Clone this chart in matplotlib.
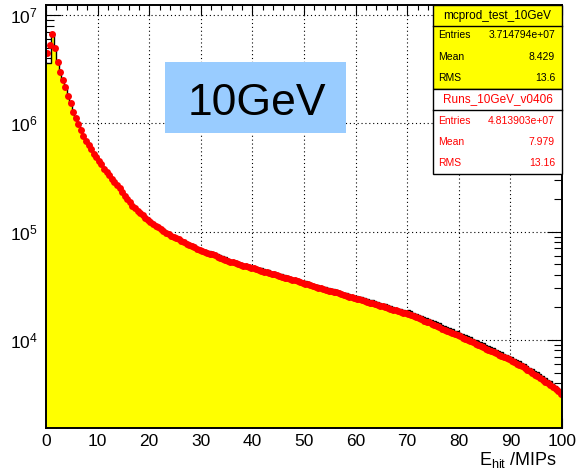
import numpy as np
import matplotlib
matplotlib.use("Agg")
import matplotlib.pyplot as plt
from matplotlib.patches import Rectangle
from matplotlib.lines import Line2D
from matplotlib.ticker import FixedLocator, FixedFormatter, LogLocator, MultipleLocator, NullFormatter

plt.rcParams['font.family'] = ['Liberation Sans', 'DejaVu Sans']
plt.rcParams['mathtext.fontset'] = 'custom'
plt.rcParams['mathtext.rm'] = 'Liberation Sans'
plt.rcParams['mathtext.it'] = 'Liberation Sans:italic'

# ---------------- data ----------------
x_min, x_max, n_bins = 0.0, 100.0, 200

# MC histogram (yellow filled, black outline), counts per 0.5-MIP bin
mc_counts = [
    3.6e6, 3.6e6, 6.8e6, 5.1e6, 3.8e6, 3.05e6, 2.5e6, 2.15e6, 1.8e6, 1.55e6,
    1.28e6, 1.13e6, 9.9e5, 8.6e5, 7.7e5, 7.0e5, 6.4e5, 5.85e5, 5.35e5, 4.95e5,
    4.60e5, 4.30e5, 3.92e5, 3.66e5, 3.41e5, 3.18e5, 2.97e5, 2.77e5, 2.59e5, 2.41e5,
    2.21e5, 2.06e5, 1.92e5, 1.79e5, 1.71e5, 1.60e5, 1.52e5, 1.45e5, 1.39e5, 1.33e5,
    1.27e5, 1.22e5, 1.16e5, 1.13e5, 1.08e5, 1.05e5, 1.01e5, 9.84e4, 9.40e4, 9.18e4,
    8.97e4, 8.77e4, 8.37e4, 8.18e4, 7.99e4, 7.82e4, 7.63e4, 7.46e4, 7.13e4, 6.96e4,
    6.94e4, 6.78e4, 6.63e4, 6.56e4, 6.48e4, 6.33e4, 6.18e4, 6.04e4, 5.90e4, 5.78e4,
    5.64e4, 5.51e4, 5.45e4, 5.39e4, 5.26e4, 5.15e4, 5.08e4, 5.03e4, 4.91e4, 4.85e4,
    4.80e4, 4.75e4, 4.64e4, 4.59e4, 4.48e4, 4.43e4, 4.38e4, 4.27e4, 4.23e4, 4.14e4,
    4.08e4, 4.04e4, 3.95e4, 3.91e4, 3.81e4, 3.77e4, 3.73e4, 3.64e4, 3.60e4, 3.52e4,
    3.48e4, 3.43e4, 3.36e4, 3.32e4, 3.24e4, 3.20e4, 3.17e4, 3.10e4, 3.07e4, 2.99e4,
    2.96e4, 2.93e4, 2.89e4, 2.82e4, 2.79e4, 2.73e4, 2.70e4, 2.64e4, 2.60e4, 2.57e4,
    2.54e4, 2.51e4, 2.48e4, 2.43e4, 2.40e4, 2.34e4, 2.32e4, 2.27e4, 2.24e4, 2.19e4,
    2.16e4, 2.14e4, 2.09e4, 2.07e4, 2.02e4, 1.99e4, 1.95e4, 1.93e4, 1.89e4, 1.87e4,
    1.88e4, 1.84e4, 1.79e4, 1.75e4, 1.71e4, 1.67e4, 1.63e4, 1.60e4, 1.57e4, 1.52e4,
    1.51e4, 1.46e4, 1.43e4, 1.37e4, 1.34e4, 1.32e4, 1.29e4, 1.25e4, 1.21e4, 1.20e4,
    1.17e4, 1.13e4, 1.10e4, 1.08e4, 1.06e4, 1.03e4, 9.97e3, 9.74e3, 9.51e3, 9.30e3,
    8.99e3, 8.78e3, 8.70e3, 8.38e3, 8.10e3, 7.92e3, 7.73e3, 7.47e3, 7.30e3, 7.14e3,
    6.89e3, 6.74e3, 6.51e3, 6.36e3, 6.15e3, 6.02e3, 5.73e3, 5.54e3, 5.35e3, 5.17e3,
    5.05e3, 4.83e3, 4.61e3, 4.45e3, 4.30e3, 4.18e3, 3.96e3, 3.79e3, 3.62e3, 3.46e3,
]

# Data points (red markers)
data_counts = [
    4.5e6, 5.3e6, 6.7e6, 5.0e6, 3.7e6, 3.0e6, 2.5e6, 2.15e6, 1.8e6, 1.55e6,
    1.27e6, 1.12e6, 9.8e5, 8.6e5, 7.6e5, 6.9e5, 6.3e5, 5.75e5, 5.25e5, 4.9e5,
    4.47e5, 4.17e5, 3.80e5, 3.55e5, 3.31e5, 3.09e5, 2.88e5, 2.69e5, 2.51e5, 2.34e5,
    2.14e5, 2.00e5, 1.86e5, 1.74e5, 1.66e5, 1.55e5, 1.48e5, 1.41e5, 1.35e5, 1.29e5,
    1.23e5, 1.18e5, 1.12e5, 1.10e5, 1.05e5, 1.02e5, 9.77e4, 9.55e4, 9.12e4, 8.91e4,
    8.71e4, 8.51e4, 8.13e4, 7.94e4, 7.76e4, 7.59e4, 7.41e4, 7.24e4, 6.92e4, 6.76e4,
    6.61e4, 6.46e4, 6.31e4, 6.25e4, 6.17e4, 6.03e4, 5.89e4, 5.75e4, 5.62e4, 5.50e4,
    5.37e4, 5.25e4, 5.19e4, 5.13e4, 5.01e4, 4.90e4, 4.84e4, 4.79e4, 4.68e4, 4.62e4,
    4.57e4, 4.52e4, 4.42e4, 4.37e4, 4.27e4, 4.22e4, 4.17e4, 4.07e4, 4.03e4, 3.94e4,
    3.89e4, 3.85e4, 3.76e4, 3.72e4, 3.63e4, 3.59e4, 3.55e4, 3.47e4, 3.43e4, 3.35e4,
    3.31e4, 3.27e4, 3.20e4, 3.16e4, 3.09e4, 3.05e4, 3.02e4, 2.95e4, 2.92e4, 2.85e4,
    2.82e4, 2.79e4, 2.75e4, 2.69e4, 2.66e4, 2.60e4, 2.57e4, 2.51e4, 2.48e4, 2.45e4,
    2.40e4, 2.37e4, 2.34e4, 2.29e4, 2.26e4, 2.21e4, 2.19e4, 2.14e4, 2.11e4, 2.07e4,
    2.04e4, 2.02e4, 1.97e4, 1.95e4, 1.91e4, 1.88e4, 1.84e4, 1.82e4, 1.78e4, 1.76e4,
    1.74e4, 1.70e4, 1.66e4, 1.62e4, 1.58e4, 1.55e4, 1.51e4, 1.48e4, 1.45e4, 1.41e4,
    1.38e4, 1.35e4, 1.32e4, 1.27e4, 1.24e4, 1.22e4, 1.19e4, 1.16e4, 1.14e4, 1.11e4,
    1.08e4, 1.05e4, 1.02e4, 1.00e4, 9.77e3, 9.55e3, 9.23e3, 9.02e3, 8.81e3, 8.61e3,
    8.32e3, 8.13e3, 7.94e3, 7.76e3, 7.50e3, 7.33e3, 7.16e3, 6.92e3, 6.76e3, 6.61e3,
    6.38e3, 6.24e3, 6.03e3, 5.89e3, 5.69e3, 5.50e3, 5.31e3, 5.13e3, 4.95e3, 4.79e3,
    4.62e3, 4.47e3, 4.27e3, 4.12e3, 3.98e3, 3.80e3, 3.67e3, 3.51e3, 3.35e3, 3.20e3,
]

x_ticks = [0, 10, 20, 30, 40, 50, 60, 70, 80, 90, 100]
x_tick_labels = ["0", "10", "20", "30", "40", "50", "60", "70", "80", "90", "100"]
y_ticks = [1e4, 1e5, 1e6, 1e7]
y_tick_labels = [r"$\mathregular{10^{4}}$", r"$\mathregular{10^{5}}$",
                 r"$\mathregular{10^{6}}$", r"$\mathregular{10^{7}}$"]
x_label = r"$\mathregular{E_{hit}}$ /MIPs"

mc_title = "mcprod_test_10GeV"
mc_stats = [("Entries", "3.714794e+07"), ("Mean", "8.429"), ("RMS", "13.6")]
data_title = "Runs_10GeV_v0406"
data_stats = [("Entries", "4.813903e+07"), ("Mean", "7.979"), ("RMS", "13.16")]
energy_label = "10GeV"

# ---------------- figure ----------------
W, H = 579, 473
fig = plt.figure(figsize=(W / 100, H / 100), dpi=100)
fig.patch.set_facecolor("white")


def fx(px):
    return px / W


def fy(py):
    return 1 - py / H


ax_l, ax_r, ax_t, ax_b = 46, 562, 5, 428
ax = fig.add_axes([fx(ax_l), fy(ax_b), fx(ax_r - ax_l), (ax_b - ax_t) / H])

edges = np.linspace(x_min, x_max, n_bins + 1)
centers = 0.5 * (edges[:-1] + edges[1:])
mc = np.array(mc_counts)
dat = np.array(data_counts)

ax.set_yscale("log")
ax.set_xlim(x_min, x_max)
ax.set_ylim(1539, 1.237e7)

ax.stairs(mc, edges, fill=True, facecolor="#ffff00", edgecolor="none",
          baseline=1, zorder=1.5)
ax.stairs(mc, edges, color="black", linewidth=1.0, baseline=None, zorder=1.6)
ax.plot(centers, dat, "o", ms=5.0, color="#ff0000", mec="#ff0000", mew=0,
        zorder=3)

ax.set_axisbelow(True)
ax.grid(True, which="major", color="black", linestyle=(0, (1, 2.5)),
        linewidth=0.8)

ax.xaxis.set_major_locator(FixedLocator(x_ticks))
ax.xaxis.set_major_formatter(FixedFormatter(x_tick_labels))
ax.xaxis.set_minor_locator(MultipleLocator(2))
ax.yaxis.set_major_locator(FixedLocator(y_ticks))
ax.yaxis.set_major_formatter(FixedFormatter(y_tick_labels))
ax.yaxis.set_minor_locator(LogLocator(base=10, subs=np.arange(2, 10)))
ax.yaxis.set_minor_formatter(NullFormatter())

ax.tick_params(which="both", direction="in", top=True, right=True,
               width=0.8, color="black")
ax.tick_params(axis="x", which="major", length=7.2, pad=4, labelsize=12.5)
ax.tick_params(axis="x", which="minor", length=3.6)
ax.tick_params(axis="y", which="major", length=11, pad=6, labelsize=12.5)
ax.tick_params(axis="y", which="minor", length=5.5)

for s in ax.spines.values():
    s.set_linewidth(1.4)
    s.set_color("black")
    s.set_zorder(4)

fig.text(fx(557), fy(460), x_label, ha="right", va="center", fontsize=13)

# energy label box
fig.patches.append(Rectangle((fx(165), fy(133)), fx(346 - 165), (133 - 62) / H,
                             transform=fig.transFigure, facecolor="#99ccff",
                             edgecolor="none", zorder=5))
fig.text(fx(257), fy(115), energy_label, ha="center", va="baseline",
         fontsize=32, color="black", zorder=6)


# stats boxes
def stats_box(top, mid, bottom, face, color, title, rows, row_y):
    fig.patches.append(Rectangle((fx(433), fy(bottom)), fx(562 - 433),
                                 (bottom - top) / H, transform=fig.transFigure,
                                 facecolor=face, edgecolor="black",
                                 linewidth=1.0, zorder=5))
    fig.lines.append(Line2D([fx(433), fx(562)], [fy(mid), fy(mid)],
                            transform=fig.transFigure, color="black",
                            linewidth=1.0, zorder=6))
    fig.text(fx(497.5), fy((top + mid) / 2), title, ha="center",
             va="center", fontsize=8.5, color=color, zorder=7)
    for (lab, val), yy in zip(rows, row_y):
        fig.text(fx(438), fy(yy), lab, ha="left", va="center", fontsize=7.5,
                 color=color, zorder=7)
        fig.text(fx(555), fy(yy), val, ha="right", va="center", fontsize=7.5,
                 color=color, zorder=7)


stats_box(5, 26, 89, "#ffff00", "black", mc_title, mc_stats, [35, 57, 78])
stats_box(89, 110, 174, "white", "#ff0000", data_title, data_stats,
          [121, 142, 163])

fig.savefig("out.png", dpi=100)
